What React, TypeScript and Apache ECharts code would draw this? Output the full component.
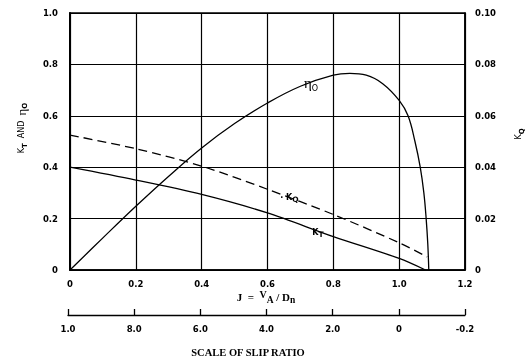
import { useEffect, useRef } from "react";
import * as echarts from "echarts";

// J = VA/Dn values and curve readings
const etaJ = [0, 0.1, 0.2, 0.3, 0.4, 0.5, 0.6, 0.7, 0.8, 0.85, 0.9, 0.95, 1.0, 1.027, 1.048, 1.064, 1.075, 1.082, 1.087, 1.09];
const etaValues = [0, 0.125, 0.248, 0.365, 0.475, 0.57, 0.65, 0.715, 0.758, 0.765, 0.758, 0.725, 0.66, 0.6, 0.5, 0.4, 0.3, 0.2, 0.1, 0];
const ktJ = [0, 0.2, 0.4, 0.6, 0.8, 1.0, 1.08];
const ktValues = [0.4, 0.35, 0.294, 0.222, 0.13, 0.045, 0];
const kqJ = [0, 0.2, 0.4, 0.6, 0.8, 1.0, 1.085];
const kqValues = [0.0525, 0.0472, 0.0404, 0.0314, 0.0216, 0.0106, 0.0051];
// slip-ratio scale: tick positions in J and their printed labels
const slipTickJ = [0, 0.2, 0.4, 0.6, 0.8, 1.0, 1.2];
const slipLabels = ["1.0", "8.0", "6.0", "4.0", "2.0", "0", "-0.2"];

const zip = (a: number[], b: number[]) => a.map((x, i) => [x, b[i]]);

const TICK_FONT = { fontFamily: "DejaVu Sans", fontWeight: "bold" as const, fontSize: 8.5, color: "#000" };

export default function App() {
  const ref = useRef<HTMLDivElement>(null);
  useEffect(() => {
    if (!ref.current) return;
    const chart = echarts.init(ref.current, undefined, { renderer: "svg" });
    const serif = "Liberation Serif";
    chart.setOption({
      animation: false,
      grid: [
        { left: 70, right: 62, top: 13, bottom: 89, show: true, borderColor: "#000", borderWidth: 1.5 },
        { left: 68, right: 62, top: 305, height: 10, show: true, borderWidth: 0, borderColor: "transparent" },
      ],
      xAxis: [
        {
          type: "value",
          gridIndex: 0,
          min: 0,
          max: 1.2,
          interval: 0.2,
          axisLine: { show: true, lineStyle: { color: "#000", width: 1.5 } },
          axisTick: { show: false },
          splitLine: { show: true, lineStyle: { color: "#000", width: 1.2 } },
          axisLabel: { ...TICK_FONT, margin: 9, formatter: (v: number) => (v === 0 ? "0" : v.toFixed(1)) },
        },
        {
          type: "value",
          gridIndex: 1,
          min: 0,
          max: 1.2,
          interval: 0.2,
          axisLine: { show: true, onZero: false, lineStyle: { color: "#000", width: 1.3 } },
          axisTick: { show: true, inside: true, length: 6, lineStyle: { color: "#000", width: 1.3 } },
          splitLine: { show: false },
          axisLabel: {
            ...TICK_FONT,
            margin: 9,
            formatter: (v: number) => slipLabels[slipTickJ.findIndex((t) => Math.abs(t - v) < 1e-6)] ?? "",
          },
        },
      ],
      yAxis: [
        {
          type: "value",
          gridIndex: 0,
          min: 0,
          max: 1,
          interval: 0.2,
          axisLine: { show: true, lineStyle: { color: "#000", width: 2 } },
          axisTick: { show: false },
          splitLine: { show: true, lineStyle: { color: "#000", width: 1.2 } },
          axisLabel: { ...TICK_FONT, margin: 12, formatter: (v: number) => (v === 0 ? "0" : v.toFixed(1)) },
        },
        {
          type: "value",
          gridIndex: 0,
          position: "right",
          min: 0,
          max: 0.1,
          interval: 0.02,
          axisLine: { show: true, lineStyle: { color: "#000", width: 1.5 } },
          axisTick: { show: false },
          splitLine: { show: false },
          axisLabel: { ...TICK_FONT, margin: 10, formatter: (v: number) => (v === 0 ? "0" : v.toFixed(2)) },
        },
        {
          type: "value",
          gridIndex: 1,
          min: 0,
          max: 1,
          show: false,
        },
      ],
      series: [
        {
          name: "eta0",
          type: "line",
          data: zip(etaJ, etaValues),
          smooth: 0.4,
          showSymbol: false,
          lineStyle: { color: "#000", width: 1.3 },
          z: 3,
        },
        {
          name: "KT",
          type: "line",
          data: zip(ktJ, ktValues),
          smooth: 0.3,
          showSymbol: false,
          lineStyle: { color: "#000", width: 1.3 },
          z: 3,
        },
        {
          name: "KQ",
          type: "line",
          yAxisIndex: 1,
          data: zip(kqJ, kqValues),
          smooth: 0.3,
          showSymbol: false,
          lineStyle: { color: "#000", width: 1.3, type: [9, 5] },
          z: 3,
        },
      ],
      graphic: [
        {
          type: "text",
          x: 21,
          y: 128,
          rotation: Math.PI / 2,
          style: {
            text: "{k|K}{s|T}{k|  AND  }{e|η}{s|O}",
            align: "center",
            verticalAlign: "middle",
            fill: "#000",
            rich: {
              k: { fontFamily: "DejaVu Sans", fontSize: 8, fill: "#000", lineHeight: 14, verticalAlign: "middle" },
              s: { fontFamily: "DejaVu Sans", fontWeight: "bold", fontSize: 7, fill: "#000", lineHeight: 14, verticalAlign: "bottom" },
              e: { fontFamily: serif, fontSize: 13, fill: "#000", lineHeight: 14, verticalAlign: "middle" },
            },
          },
        },
        {
          type: "text",
          x: 518,
          y: 134,
          rotation: Math.PI / 2,
          style: {
            text: "{k|K}{s|Q}",
            align: "center",
            verticalAlign: "middle",
            fill: "#000",
            rich: {
              k: { fontFamily: "DejaVu Sans", fontSize: 8, fill: "#000", lineHeight: 14, verticalAlign: "middle" },
              s: { fontFamily: "DejaVu Sans", fontWeight: "bold", fontSize: 7, fill: "#000", lineHeight: 14, verticalAlign: "bottom" },
            },
          },
        },
        {
          type: "text",
          x: 311,
          y: 83,
          style: {
            text: "{e|η}{s|O}",
            align: "center",
            verticalAlign: "middle",
            fill: "#000",
            backgroundColor: "#fff",
            padding: [1, 2, 1, 2],
            rich: {
              e: { fontFamily: serif, fontSize: 15, fill: "#000", lineHeight: 18, verticalAlign: "middle" },
              s: { fontFamily: "DejaVu Sans", fontSize: 8, fill: "#000", lineHeight: 18, verticalAlign: "bottom" },
            },
          },
        },
        {
          type: "text",
          x: 290,
          y: 197,
          style: {
            text: "{k|· K}{s|Q}",
            align: "center",
            verticalAlign: "middle",
            fill: "#000",
            backgroundColor: "#fff",
            padding: [1, 2, 1, 1],
            rich: {
              k: { fontFamily: "DejaVu Sans", fontWeight: "bold", fontSize: 8, fill: "#000", lineHeight: 12, verticalAlign: "middle" },
              s: { fontFamily: "DejaVu Sans", fontWeight: "bold", fontSize: 7.5, fill: "#000", lineHeight: 12, verticalAlign: "bottom" },
            },
          },
        },
        {
          type: "text",
          x: 318,
          y: 232,
          style: {
            text: "{k|K}{s|T}",
            align: "center",
            verticalAlign: "middle",
            fill: "#000",
            backgroundColor: "#fff",
            padding: [1, 2, 1, 2],
            rich: {
              k: { fontFamily: "DejaVu Sans", fontWeight: "bold", fontSize: 8, fill: "#000", lineHeight: 12, verticalAlign: "middle" },
              s: { fontFamily: "DejaVu Sans", fontWeight: "bold", fontSize: 7.5, fill: "#000", lineHeight: 12, verticalAlign: "bottom" },
            },
          },
        },
        {
          type: "text",
          x: 266,
          y: 297,
          style: {
            text: "{m|J  =  }{t|V}{s|A}{m| / D}{s|n}",
            align: "center",
            verticalAlign: "middle",
            fill: "#000",
            rich: {
              m: { fontFamily: serif, fontWeight: "bold", fontSize: 11, fill: "#000", lineHeight: 16, verticalAlign: "middle" },
              t: { fontFamily: serif, fontWeight: "bold", fontSize: 10, fill: "#000", lineHeight: 16, verticalAlign: "top" },
              s: { fontFamily: serif, fontWeight: "bold", fontSize: 9.5, fill: "#000", lineHeight: 16, verticalAlign: "bottom" },
            },
          },
        },
        {
          type: "text",
          x: 248,
          y: 352,
          style: {
            text: "SCALE OF SLIP RATIO",
            align: "center",
            verticalAlign: "middle",
            font: `bold 10.5px "${serif}"`,
            fill: "#000",
          },
        },
      ],
    });
    return () => chart.dispose();
  }, []);
  return <div ref={ref} style={{ position: "fixed", left: 0, top: 0, width: 527, height: 359 }} />;
}
